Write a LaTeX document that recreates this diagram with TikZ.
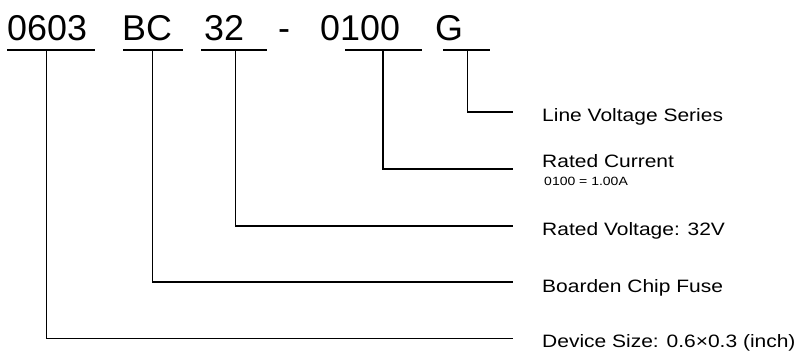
\documentclass[tikz,border=0pt]{standalone}
\usepackage{fontspec}
\setmainfont{Liberation Sans}

\begin{document}
\begin{tikzpicture}[x=1bp,y=-1bp,
  part/.style={anchor=base west,inner sep=0pt,font=\fontsize{36}{40}\selectfont},
  desc/.style={anchor=base west,inner sep=0pt,xscale=1.17,font=\fontsize{18}{20}\selectfont},
  subdesc/.style={anchor=base west,inner sep=0pt,xscale=1.17,font=\fontsize{12}{14}\selectfont},
  bar/.style={line width=2bp},
  lead/.style={line width=1.3bp}]

\useasboundingbox (0,0) rectangle (798,353);

% Part number
\node[part] (size) at (7,40) {0603};
\node[part] (series) at (122,40) {BC};
\node[part] (volt) at (204,40) {32};
\node[part] (dash) at (278,40) {-};
\node[part] (curr) at (320,40) {0100};
\node[part] (grade) at (435,40) {G};

% Underlines
\draw[bar] (7,50) -- (95,50);
\draw[bar] (123,50) -- (183,50);
\draw[bar] (201,50) -- (267,50);
\draw[bar] (345,50) -- (422,50);
\draw[bar] (443,50) -- (490,50);

\coordinate (u1) at (46.7,50);
\coordinate (u2) at (152.7,50);
\coordinate (u3) at (235.7,50);
\coordinate (u4) at (383,50);
\coordinate (u5) at (467.7,50);

% Line ends
\coordinate (e1) at (512.7,338.7);
\coordinate (e2) at (512.7,282);
\coordinate (e3) at (512.7,226);
\coordinate (e4) at (512.7,169);
\coordinate (e5) at (512.7,112);

% Descriptions
\node[desc] (d5) at (542,121) {Line Voltage Series};
\node[desc] (d4) at (542,167.7) {Rated Current};
\node[subdesc] (d4b) at (544,185.7) {0100 = 1.00A};
\node[desc] (d3) at (542,235) {Rated Voltage: 32V};
\node[desc] (d2) at (542,292.3) {Boarden Chip Fuse};
\node[desc] (d1) at (542,347.3) {Device Size: 0.6×0.3 (inch)};

% Leads
\draw[lead] (u1) |- (e1);
\draw[lead] (u2) |- (e2);
\draw[lead] (u3) |- (e3);
\draw[lead] (u4) |- (e4);
\draw[lead] (u5) |- (e5);

\end{tikzpicture}
\end{document}
